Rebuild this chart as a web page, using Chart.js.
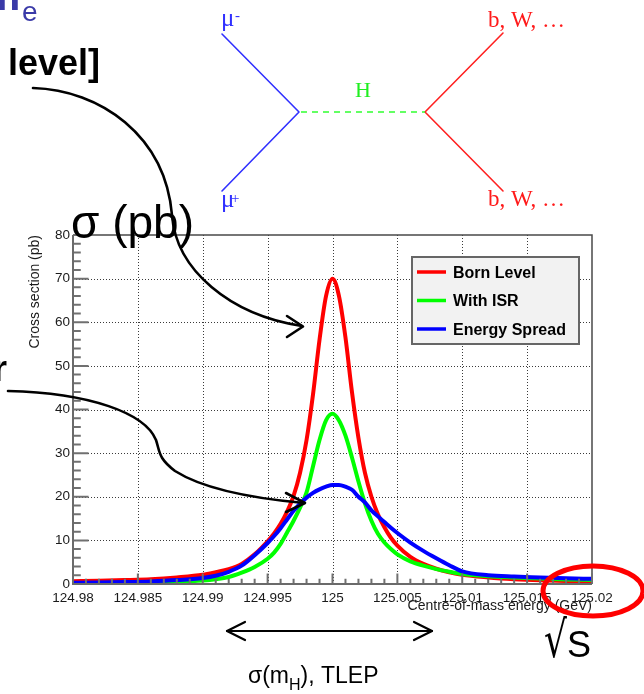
<!DOCTYPE html>
<html><head><meta charset="utf-8">
<script src="https://cdn.jsdelivr.net/npm/chart.js@4.4.1/dist/chart.umd.min.js"></script>
<style>html,body{margin:0;padding:0;background:#fff;overflow:hidden}#wrap{position:relative;width:644px;height:694px}</style>
</head><body><div id="wrap"><canvas id="c" width="644" height="694"></canvas></div>
<script>
// ---- data ----
const energies = [124.980,124.982,124.984,124.986,124.988,124.990,124.991,124.992,124.993,124.994,124.995,124.9955,124.996,124.9965,124.997,124.9975,124.998,124.9985,124.999,124.9995,125.000,125.0005,125.001,125.0015,125.002,125.0025,125.003,125.0035,125.004,125.0045,125.005,125.006,125.007,125.008,125.009,125.010,125.012,125.014,125.016,125.018,125.020];
const bornLevel = [0.65,0.75,0.9,1.1,1.5,2.1,2.7,3.4,4.6,6.8,9.8,11.6,13.8,16.6,20.2,25.5,33,43.5,56,66,70,66,56.5,44,33.5,25.5,20,16,13,10.6,8.8,6.2,4.6,3.5,2.7,2.1,1.5,1.1,0.85,0.7,0.55];
const withISR = [0.1,0.15,0.25,0.35,0.5,0.8,1.1,1.6,2.6,3.9,5.8,7.2,9.2,11.8,14.5,17.5,21,27,33,37.5,39,37.5,34,29,23.5,18.5,14.5,11.5,9.5,8,6.8,5.2,4.2,3.4,2.8,2.3,1.8,1.5,1.25,1.05,0.9];
const energySpread = [0.3,0.35,0.45,0.6,0.9,1.4,1.9,2.8,4.2,6.6,9.4,11.0,12.8,14.8,16.8,18.4,19.8,20.9,21.7,22.3,22.7,22.7,22.3,21.6,20.0,18.7,16.9,15.5,14.2,12.9,11.7,9.5,7.6,5.9,4.3,2.9,2.0,1.7,1.5,1.3,1.2];
const seriesNames = ['Born Level','With ISR','Energy Spread'];
const seriesColors = ['#ff0000','#00ff00','#0000ff'];
const xTickValues = [124.98,124.985,124.99,124.995,125,125.005,125.01,125.015,125.02];
const xTickLabels = ['124.98','124.985','124.99','124.995','125','125.005','125.01','125.015','125.02'];
const yTickValues = [0,10,20,30,40,50,60,70,80];
const xMinorStep = 0.001, yMinorStep = 2;
const xTitle = 'Centre-of-mass energy (GeV)';
const yTitle = 'Cross section (pb)';

const SANS = '"Liberation Sans", Arial, sans-serif';
const SERIF = '"Liberation Serif", "Times New Roman", serif';

function pts(ys){ return energies.map((e,i)=>({x:e,y:ys[i]})); }

const rootStyle = {
  id:'rootStyle',
  beforeDatasetsDraw(chart){
    const {ctx, chartArea:a, scales:{x,y}} = chart;
    ctx.save();
    ctx.strokeStyle='#3a3a3a'; ctx.lineWidth=1; ctx.setLineDash([1,2]);
    ctx.beginPath();
    xTickValues.slice(1,-1).forEach(v=>{const p=Math.round(x.getPixelForValue(v))+0.5; ctx.moveTo(p,a.top); ctx.lineTo(p,a.bottom);});
    yTickValues.slice(1,-1).forEach(v=>{const p=Math.round(y.getPixelForValue(v))+0.5; ctx.moveTo(a.left,p); ctx.lineTo(a.right,p);});
    ctx.stroke();
    ctx.restore();
  },
  afterDatasetsDraw(chart){
    const {ctx, chartArea:a, scales:{x,y}} = chart;
    ctx.save();
    ctx.strokeStyle='#4a4a4a'; ctx.lineWidth=1.5;
    ctx.beginPath(); ctx.moveTo(a.left,a.top); ctx.lineTo(a.right,a.top); ctx.lineTo(a.right,a.bottom); ctx.stroke();
    ctx.strokeStyle='#707070'; ctx.lineWidth=2;
    const xMajL=(a.bottom-a.top)*0.03, yMajL=(a.right-a.left)*0.03;
    ctx.beginPath();
    const nx=Math.round((x.max-x.min)/xMinorStep);
    for(let i=0;i<=nx;i++){const v=x.min+i*xMinorStep; const p=x.getPixelForValue(v); const L=(i%5===0)?xMajL:xMajL/2; ctx.moveTo(p,a.bottom); ctx.lineTo(p,a.bottom-L);}
    const ny=Math.round((y.max-y.min)/yMinorStep);
    for(let i=0;i<=ny;i++){const v=y.min+i*yMinorStep; const p=y.getPixelForValue(v); const L=(i%5===0)?yMajL:yMajL/2; ctx.moveTo(a.left,p); ctx.lineTo(a.left+L,p);}
    ctx.stroke();
    ctx.strokeStyle='#6a6a6a'; ctx.lineWidth=2;
    ctx.beginPath(); ctx.moveTo(a.left,a.top); ctx.lineTo(a.left,a.bottom); ctx.lineTo(a.right,a.bottom); ctx.stroke();
    const lx=411, ly=256, lw=169, lh=89;
    ctx.fillStyle='#f2f2f2'; ctx.fillRect(lx,ly,lw,lh);
    ctx.strokeStyle='#666'; ctx.lineWidth=2; ctx.strokeRect(lx+1,ly+1,lw-2,lh-2);
    chart.data.datasets.forEach((ds,i)=>{
      const cy=272+i*28.5;
      ctx.strokeStyle=ds.borderColor; ctx.lineWidth=3.5;
      ctx.beginPath(); ctx.moveTo(417,cy); ctx.lineTo(446,cy); ctx.stroke();
      ctx.fillStyle='#000'; ctx.font='bold 16px '+SANS; ctx.textBaseline='alphabetic'; ctx.textAlign='left';
      ctx.fillText(ds.label,453,cy+5.5);
    });
    ctx.restore();
  },
  afterDraw(chart){
    const ctx=chart.ctx;
    ctx.save();
    ctx.lineCap='round'; ctx.lineJoin='round';
    ctx.lineWidth=1.6;
    ctx.strokeStyle='#3030ff';
    ctx.beginPath(); ctx.moveTo(222,34); ctx.lineTo(299,112); ctx.lineTo(222,191); ctx.stroke();
    ctx.strokeStyle='#ff2020';
    ctx.beginPath(); ctx.moveTo(503,33); ctx.lineTo(425,112); ctx.lineTo(503,191); ctx.stroke();
    ctx.strokeStyle='#30ff30'; ctx.setLineDash([6,5]); ctx.lineCap='butt';
    ctx.beginPath(); ctx.moveTo(301,112); ctx.lineTo(425,112); ctx.stroke();
    ctx.setLineDash([]); ctx.lineCap='round';
    ctx.textAlign='left'; ctx.textBaseline='alphabetic';
    ctx.fillStyle='#3030ff'; ctx.font='25px '+SERIF;
    ctx.fillText('\u03bc',221,26); ctx.fillText('\u03bc',221,207);
    ctx.font='15px '+SERIF; ctx.fillText('-',235,20); ctx.fillText('+',231,203);
    ctx.fillStyle='#20ee20'; ctx.font='22px '+SERIF; ctx.fillText('H',355,97);
    ctx.fillStyle='#ff1a1a'; ctx.font='23px '+SERIF;
    ctx.fillText('b, W, \u2026',488,27); ctx.fillText('b, W, \u2026',488,206);
    ctx.fillStyle='#3a3aa8'; ctx.font='bold 42px '+SANS; ctx.fillText('m',-17,10);
    ctx.font='28px '+SANS; ctx.fillText('e',22,21);
    ctx.fillStyle='#000'; ctx.font='bold 36px '+SANS; ctx.fillText('level]',8,75);
    ctx.textAlign='right'; ctx.fillText('r',7,381); ctx.textAlign='left';
    ctx.font='46px '+SANS; ctx.fillText('\u03c3 (pb)',71,238);
    ctx.strokeStyle='#000'; ctx.lineWidth=2.6;
    ctx.beginPath(); ctx.moveTo(33,88); ctx.bezierCurveTo(100,90,165,135,172,215); ctx.bezierCurveTo(176,270,230,315,302,326); ctx.stroke();
    ctx.beginPath(); ctx.moveTo(287,316); ctx.lineTo(303,326.5); ctx.lineTo(287,337); ctx.stroke();
    ctx.beginPath(); ctx.moveTo(8,391); ctx.bezierCurveTo(90,393,145,413,156,440); ctx.bezierCurveTo(160,452,158,458,175,471); ctx.bezierCurveTo(205,490,260,499,304,503); ctx.stroke();
    ctx.beginPath(); ctx.moveTo(286,493); ctx.lineTo(305,503); ctx.lineTo(286,512); ctx.stroke();
    ctx.lineWidth=2.2;
    ctx.beginPath(); ctx.moveTo(227,631); ctx.lineTo(432,631); ctx.stroke();
    ctx.beginPath(); ctx.moveTo(245,622); ctx.lineTo(227,631); ctx.lineTo(245,640); ctx.stroke();
    ctx.beginPath(); ctx.moveTo(414,622); ctx.lineTo(432,631); ctx.lineTo(414,640); ctx.stroke();
    ctx.font='23px '+SANS; ctx.fillText('\u03c3(m',248,683);
    let w=ctx.measureText('\u03c3(m').width;
    ctx.font='16px '+SANS; ctx.fillText('H',248+w,690);
    let w2=ctx.measureText('H').width;
    ctx.font='23px '+SANS; ctx.fillText('), TLEP',248+w+w2,683);
    ctx.strokeStyle='#ff0000'; ctx.lineWidth=5;
    ctx.beginPath(); ctx.ellipse(593,591,50,25,0,0,Math.PI*2); ctx.stroke();
    ctx.fillStyle='#000';
    ctx.save(); ctx.translate(544,657); ctx.scale(1,1.4); ctx.font='36px "DejaVu Sans", sans-serif'; ctx.fillText('\u221a',0,0); ctx.restore();
    ctx.font='36px '+SANS; ctx.fillText('S',567,657);
    ctx.restore();
  }
};

new Chart(document.getElementById('c'),{
  type:'line',
  data:{datasets:[
    {label:seriesNames[0],data:pts(bornLevel),borderColor:seriesColors[0],order:2},
    {label:seriesNames[1],data:pts(withISR),borderColor:seriesColors[1],order:1},
    {label:seriesNames[2],data:pts(energySpread),borderColor:seriesColors[2],order:0}
  ]},
  options:{
    responsive:false, animation:false, devicePixelRatio:1,
    layout:{padding:{left:0,right:52,top:235,bottom:0}},
    elements:{line:{borderWidth:4,cubicInterpolationMode:'monotone',fill:false},point:{radius:0}},
    plugins:{legend:{display:false},tooltip:{enabled:false}},
    scales:{
      x:{type:'linear',min:124.98,max:125.02,
        afterBuildTicks:s=>{s.ticks=xTickValues.map(v=>({value:v}));},
        afterFit:s=>{s.height=110;},
        grid:{display:false,drawTicks:false},border:{display:false},
        ticks:{padding:6,autoSkip:false,maxRotation:0,color:'#1a1a1a',font:{family:SANS,size:13.5},
          callback:(v,i)=>xTickLabels[i]},
        title:{display:true,text:xTitle,align:'end',color:'#1a1a1a',font:{family:SANS,size:14},padding:{top:0,bottom:79}}
      },
      y:{type:'linear',min:0,max:80,
        afterBuildTicks:s=>{s.ticks=yTickValues.map(v=>({value:v}));},
        afterFit:s=>{s.width=73;},
        grid:{display:false,drawTicks:false},border:{display:false},
        ticks:{padding:3,color:'#1a1a1a',font:{family:SANS,size:13.5}},
        title:{display:true,text:yTitle,align:'end',color:'#1a1a1a',font:{family:SANS,size:14},padding:{top:27,bottom:0}}
      }
    }
  },
  plugins:[rootStyle]
});
</script></body></html>
